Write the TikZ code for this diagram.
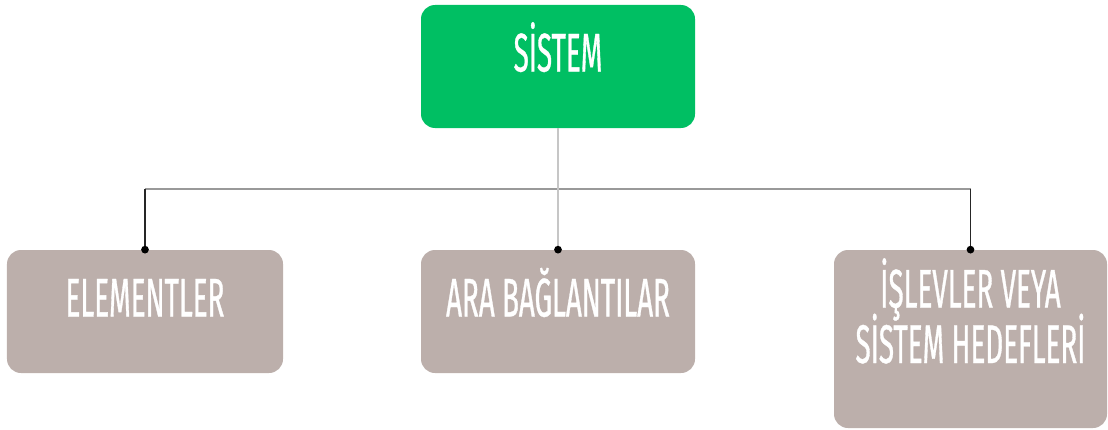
\documentclass[tikz,border=0pt]{standalone}
\usepackage{fontspec}
\newfontfamily\boxfont[FakeStretch=0.51, FakeBold=0.6]{Fira Sans}
\usetikzlibrary{calc}
\definecolor{sysgreen}{RGB}{0,191,99}
\definecolor{taupe}{RGB}{188,175,171}

\begin{document}
\begin{tikzpicture}[
    box/.style={rounded corners=0.28cm, minimum width=5.48cm, minimum height=2.46cm,
        inner sep=0pt, text=white, align=center,
        font=\boxfont\fontsize{31}{27.3}\selectfont},
    oneline/.style={text height=0.7cm, text depth=0.5cm},
    busline/.style={gray!80, line width=0.7pt},
    dropline/.style={black!85, line width=0.7pt},
]
    \useasboundingbox (0,0) rectangle (22.16,-8.6);

    \node[box, oneline, fill=sysgreen] (sys) at (11.16,-1.33) {SİSTEM};

    \node[box, oneline, fill=taupe, minimum width=5.52cm] (elem) at (2.90,-6.23) {ELEMENTLER};
    \node[box, oneline, fill=taupe] (link) at (11.16,-6.23) {ARA BAĞLANTILAR};
    \node[box, fill=taupe, minimum width=5.46cm, minimum height=3.56cm,
          text height=1.66cm, text depth=0.7cm] (goal) at (19.41,-6.78)
          {İŞLEVLER VEYA\\[-5pt]SİSTEM HEDEFLERİ};

    \coordinate (bus) at (11.16,-3.78);

    \draw[busline] (elem.north |- bus) -- (goal.north |- bus);
    \draw[dropline] (elem.north |- bus) -- (elem.north);
    \draw[dropline] (goal.north |- bus) -- (goal.north);
    \draw[gray!45, line width=0.7pt] (sys.south) -- (link.north);

    \fill (elem.north) circle (2.2pt);
    \fill (link.north) circle (2.2pt);
    \fill (goal.north) circle (2.2pt);
\end{tikzpicture}
\end{document}
